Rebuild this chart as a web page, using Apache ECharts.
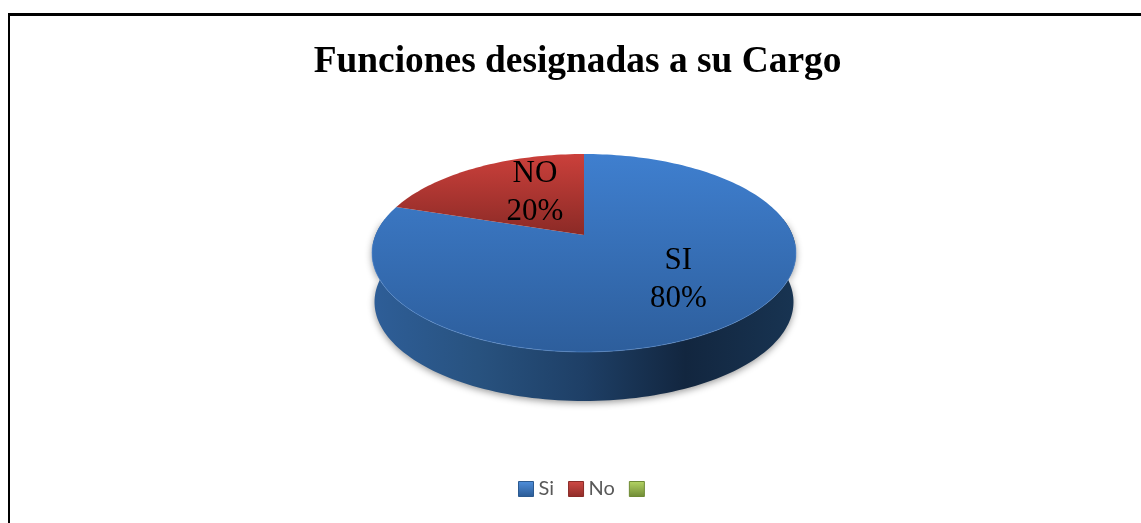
<!DOCTYPE html>
<html>
<head>
<meta charset="utf-8">
<title>Funciones designadas a su Cargo</title>
<script src="https://cdn.jsdelivr.net/npm/echarts@6/dist/echarts.min.js"></script>
<style>
html, body { margin: 0; padding: 0; background: #fff; overflow: hidden; }
#chart { width: 1141px; height: 523px; }
</style>
</head>
<body>
<div id="chart"></div>
<script>
var title_text = "Funciones designadas a su Cargo";
var legend_names = ["Si", "No", " "];
var slice_values = [80, 20, 0];
var label_names = ["SI", "NO", ""];

// pie seen in perspective: disc coordinates (u,v) go through a projective map
var cx = 584, cy = 235, scale_x = 208.5, scale_y = 95.7, persp = -0.1818, depth = 49;
// where the labels sit on the disc
var label_spots = [[0.417, 0.43], [-0.256, -0.48], [0, 0]];

var project = (u, v) => {
   var d = 1 + persp * v;
   return [cx + scale_x * u / d, cy + scale_y * v / d];
};
var on_rim = (deg) => {
   var a = deg * Math.PI / 180;
   return project(Math.sin(a), -Math.cos(a));
};
var arc_points = (from, to) => {
   var pts = [];
   var n = Math.max(2, Math.ceil(Math.abs(to - from) / 1.5));
   for (var i = 0; i <= n; i++) {
      pts.push(on_rim(from + (to - from) * i / n));
   }
   return pts;
};
var grad_v = (c1, c2) => new echarts.graphic.LinearGradient(0, 0, 0, 1, [
   { offset: 0, color: c1 }, { offset: 1, color: c2 }
]);

var top_fill = [grad_v("#3f7fcf", "#2d5e9c"), grad_v("#cb403b", "#8b2a26"), "#9bbb59"];
var legend_fill = [grad_v("#4f8fdc", "#2a5a94"), grad_v("#d04a45", "#8f2c28"), grad_v("#b5d564", "#6f8a35")];
var legend_edge = ["#2c5a90", "#8a2b27", "#6f8a35"];

var total = slice_values.reduce((a, b) => a + b, 0);

var make_wall = () => {
   // front side of the pie, between the widest points of the rim
   var rim = arc_points(80, 280);
   var lower = rim.slice().reverse().map(p => [cx + (p[0] - cx) * 0.988, p[1] + depth]);
   return {
      type: "polygon",
      shape: { points: rim.concat(lower) },
      style: {
         fill: new echarts.graphic.LinearGradient(0, 0, 1, 0, [
            { offset: 0, color: "#2e5e98" },
            { offset: 0.25, color: "#28527f" },
            { offset: 0.5, color: "#1e3f66" },
            { offset: 0.74, color: "#12263f" },
            { offset: 1, color: "#183452" }
         ]),
         shadowBlur: 7,
         shadowColor: "rgba(0,0,0,0.4)",
         shadowOffsetY: 2
      }
   };
};

var make_series = () => {
   var result = [];
   var start = 0;
   slice_values.forEach((val, idx) => {
      var from = start;
      var to = start + val / total * 360;
      start = to;
      result.push({
         name: legend_names[idx],
         type: "custom",
         coordinateSystem: "none",
         silent: true,
         data: [val],
         itemStyle: { color: legend_edge[idx] },
         renderItem: (params, api) => {
            var children = [];
            if (!api.value(0)) {
               return { type: "group", children: children };
            }
            if (idx === 0) {
               children.push(make_wall());
            }
            var pts = [project(0, 0)].concat(arc_points(from, to));
            children.push({
               type: "polygon",
               shape: { points: pts },
               style: { fill: top_fill[idx] }
            });
            if (idx === 0) {
               // thin light edge along the front of the top face
               children.push({
                  type: "polyline",
                  shape: { points: arc_points(95, 265) },
                  style: { fill: null, stroke: "rgba(96,150,220,0.5)", lineWidth: 1 }
               });
            }
            var spot = project(label_spots[idx][0], label_spots[idx][1]);
            children.push({
               type: "text",
               x: spot[0],
               y: spot[1],
               z2: 10,
               style: {
                  text: label_names[idx] + "\n" + api.value(0) + "%",
                  fill: "#000",
                  font: "31px 'Liberation Serif'",
                  lineHeight: 38,
                  align: "center",
                  verticalAlign: "middle"
               }
            });
            return { type: "group", children: children };
         }
      });
   });
   return result;
};

var option = {
   animation: false,
   title: {
      text: title_text,
      left: 572.5,
      top: 39,
      textAlign: "center",
      textStyle: {
         fontFamily: "Liberation Serif",
         fontWeight: "bold",
         fontSize: 37.4,
         color: "#000"
      }
   },
   legend: {
      left: 518,
      top: 479,
      padding: 0,
      itemWidth: 15,
      itemHeight: 15,
      itemGap: 14,
      icon: "rect",
      selectedMode: false,
      textStyle: { fontFamily: "Lato", fontSize: 20, color: "#595959" },
      data: legend_names.map((n, i) => ({
         name: n,
         itemStyle: { color: legend_fill[i], borderColor: legend_edge[i], borderWidth: 1 }
      }))
   },
   series: make_series(),
   graphic: [
      { type: "rect", shape: { x: 8, y: 13, width: 1133, height: 3 }, style: { fill: "#000" } },
      { type: "rect", shape: { x: 8, y: 13, width: 2, height: 510 }, style: { fill: "#000" } }
   ]
};

var myChart = echarts.init(document.querySelector("#chart"));
myChart.setOption(option, true);
</script>
</body>
</html>
